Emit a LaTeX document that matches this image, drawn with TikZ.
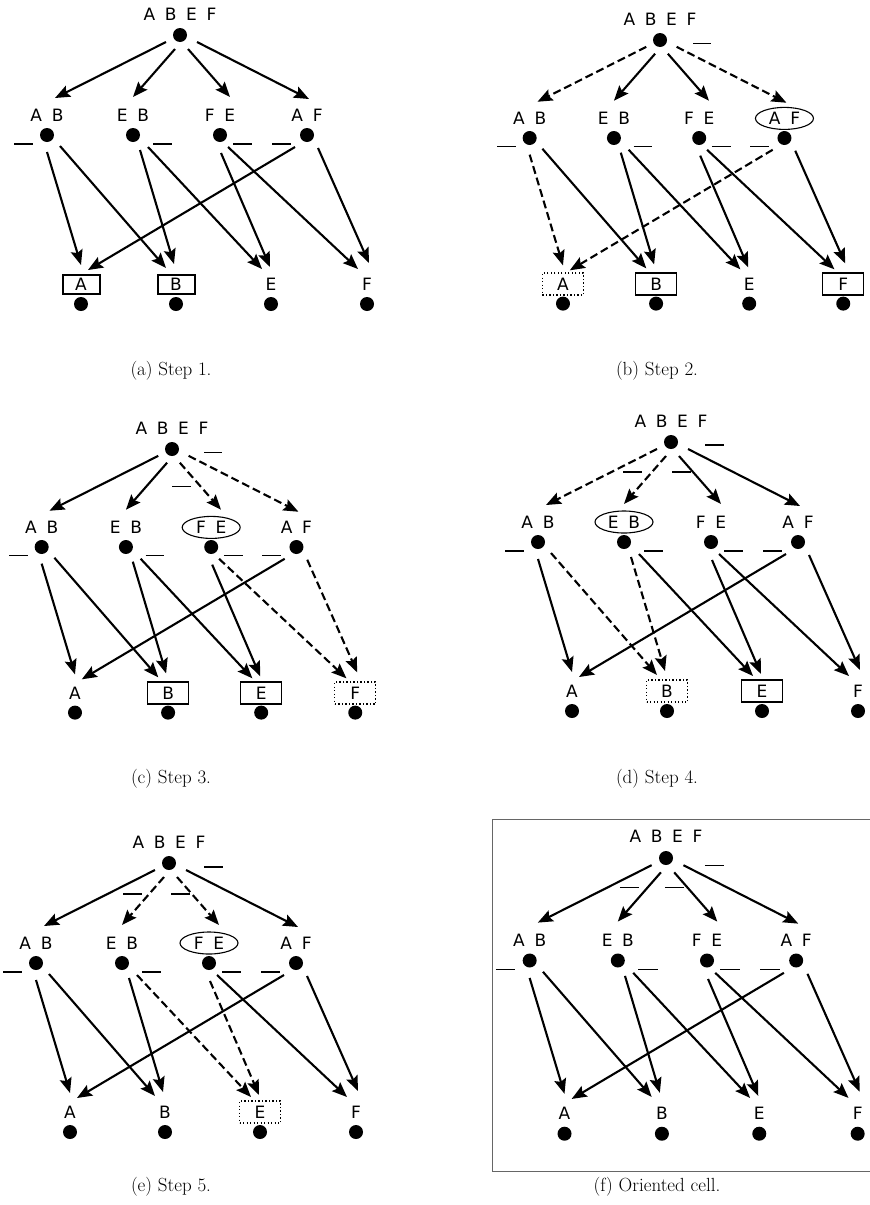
\documentclass[tikz,border=0pt]{standalone}
\usepackage{fontspec}
\newfontfamily\lblfont[WordSpace=1.8]{DejaVu Sans}
\usetikzlibrary{arrows.meta,calc,shapes.geometric}

\tikzset{
  dot/.style={circle,fill=black,minimum size=14pt,inner sep=0pt},
  lbl/.style={font=\lblfont\fontsize{17}{19}\selectfont,inner sep=1pt},
  conn/.style={line width=2.1pt,-{Stealth[length=15pt,width=12pt,inset=2.5pt]}},
  dsh/.style={dash pattern=on 8pt off 4pt},
  negbar/.style={line width=1.1pt},
  sqbox/.style={draw,line width=1.1pt,minimum width=41pt,minimum height=22pt,inner sep=0pt},
  thickbox/.style={draw,line width=2pt,minimum width=37pt,minimum height=19pt,inner sep=0pt},
  dotbox/.style={sqbox,dash pattern=on 1.3pt off 2.2pt},
  oval/.style={draw,ellipse,line width=1.1pt,minimum width=58pt,minimum height=22pt,inner sep=0pt},
  subcap/.style={font=\fontsize{19}{22}\selectfont},
  frame/.style={draw=black!60,line width=1pt},
  % hooks, changed per panel
  etAB/.style={}, etEB/.style={}, etFE/.style={}, etAF/.style={},
  eabA/.style={}, eabB/.style={}, eebB/.style={}, eebE/.style={},
  efeE/.style={}, efeF/.style={}, eafA/.style={}, eafF/.style={},
  hAB/.style={}, hEB/.style={}, hFE/.style={}, hAF/.style={},
  hA/.style={}, hB/.style={}, hE/.style={}, hF/.style={}
}

\newcommand{\cellgraph}{%
  \node[dot] (T) at (0,0) {};
  \node[lbl] (lT) at (0,-21) {A B E F};
  \node[dot] (AB) at (-133,100) {};
  \node[dot] (EB) at (-47,100) {};
  \node[dot] (FE) at (40,100) {};
  \node[dot] (AF) at (127,100) {};
  \node[lbl,hAB] (lAB) at (-133,80) {A B};
  \node[lbl,hEB] (lEB) at (-47,80) {E B};
  \node[lbl,hFE] (lFE) at (40,80) {F E};
  \node[lbl,hAF] (lAF) at (127,80) {A F};
  \node[dot] (A) at (-99,269) {};
  \node[dot] (B) at (-4,269) {};
  \node[dot] (E) at (91,269) {};
  \node[dot] (F) at (187,269) {};
  \node[lbl,hA] (lA) at (-99,249) {A};
  \node[lbl,hB] (lB) at (-4,249) {B};
  \node[lbl,hE] (lE) at (91,249) {E};
  \node[lbl,hF] (lF) at (187,249) {F};
  \draw[conn,etAB] ($(T)+(-14,7)$) -- ($(AB)+(8,-37)$);
  \draw[conn,etEB] ($(T)+(-5,14)$) -- ($(EB)+(0,-38)$);
  \draw[conn,etFE] ($(T)+(8,14)$) -- ($(FE)+(10,-38)$);
  \draw[conn,etAF] ($(T)+(17,7)$) -- ($(AF)+(2,-36)$);
  \draw[conn,eabA] ($(AB)+(0,17)$) -- ($(A)+(0,-39)$);
  \draw[conn,eabB] ($(AB)+(13,11)$) -- ($(B)+(-10,-36)$);
  \draw[conn,eebB] ($(EB)+(7,15)$) -- ($(B)+(-2,-40)$);
  \draw[conn,eebE] ($(EB)+(15,12)$) -- ($(E)+(-9,-35)$);
  \draw[conn,efeE] ($(FE)+(1,18)$) -- ($(E)+(-1,-37)$);
  \draw[conn,efeF] ($(FE)+(8,12)$) -- ($(F)+(-9,-35)$);
  \draw[conn,eafA] ($(AF)+(-12,12)$) -- ($(A)+(7,-34)$);
  \draw[conn,eafF] ($(AF)+(11,13)$) -- ($(F)+(2,-41)$);
  \draw[negbar] ($(AB)+(-33,9)$) -- ++(19,0);
  \draw[negbar] ($(EB)+(20,9)$) -- ++(19,0);
  \draw[negbar] ($(FE)+(13,9)$) -- ++(19,0);
  \draw[negbar] ($(AF)+(-35,9)$) -- ++(19,0);
}

\begin{document}
\begin{tikzpicture}[x=1pt,y=-1pt]
\useasboundingbox (0,0) rectangle (870,1205);

% (a)
\begin{scope}[name prefix=a-,shift={(180,35)},hA/.style=thickbox,hB/.style=thickbox]
  \cellgraph
\end{scope}

% (b)
\begin{scope}[name prefix=b-,shift={(660,40)},scale=0.98,
  etAB/.style=dsh,etAF/.style=dsh,eabA/.style=dsh,eafA/.style=dsh,
  hAF/.style=oval,hA/.style=dotbox,hB/.style=sqbox,hF/.style=sqbox]
  \cellgraph
  \draw[negbar] ($(T)+(34,4)$) -- ++(18,0);
\end{scope}

% (c)
\begin{scope}[name prefix=c-,shift={(172,449)},scale=0.98,
  etFE/.style=dsh,etAF/.style=dsh,efeF/.style=dsh,eafF/.style=dsh,
  hFE/.style=oval,hB/.style=sqbox,hE/.style=sqbox,hF/.style=dotbox]
  \cellgraph
  \draw[negbar] ($(T)+(33,4)$) -- ++(18,0);
  \draw[negbar] ($(T)+(0,38)$) -- ++(19,0);
\end{scope}

% (d)
\begin{scope}[name prefix=d-,shift={(671,442)},
  etAB/.style=dsh,etEB/.style=dsh,eabB/.style=dsh,eebB/.style=dsh,
  hEB/.style=oval,hB/.style=dotbox,hE/.style=sqbox]
  \cellgraph
  \draw[negbar] ($(T)+(34,3)$) -- ++(19,0);
  \draw[negbar] ($(T)+(-48,30)$) -- ++(19,0);
  \draw[negbar] ($(T)+(1,30)$) -- ++(19,0);
\end{scope}

% (e)
\begin{scope}[name prefix=e-,shift={(169,863)},
  etEB/.style=dsh,etFE/.style=dsh,eebE/.style=dsh,efeE/.style=dsh,
  hFE/.style=oval,hE/.style=dotbox]
  \cellgraph
  \draw[negbar] ($(T)+(35,4)$) -- ++(19,0);
  \draw[negbar] ($(T)+(-46,31)$) -- ++(19,0);
  \draw[negbar] ($(T)+(2,31)$) -- ++(19,0);
\end{scope}

% (f)
\draw[frame] (492,819) rectangle (878,1171);
\begin{scope}[name prefix=f-,shift={(666,858)},scale=1.025]
  \cellgraph
  \draw[negbar] ($(T)+(38,7)$) -- ++(19,0);
  \draw[negbar] ($(T)+(-45,29)$) -- ++(19,0);
  \draw[negbar] ($(T)+(-1,29)$) -- ++(19,0);
\end{scope}

\node[subcap] (capa) at (171,371) {(a) Step 1.};
\node[subcap] (capb) at (657,371) {(b) Step 2.};
\node[subcap] (capc) at (171,779) {(c) Step 3.};
\node[subcap] (capd) at (657,779) {(d) Step 4.};
\node[subcap] (cape) at (171,1187) {(e) Step 5.};
\node[subcap] (capf) at (657,1187) {(f) Oriented cell.};
\end{tikzpicture}
\end{document}
